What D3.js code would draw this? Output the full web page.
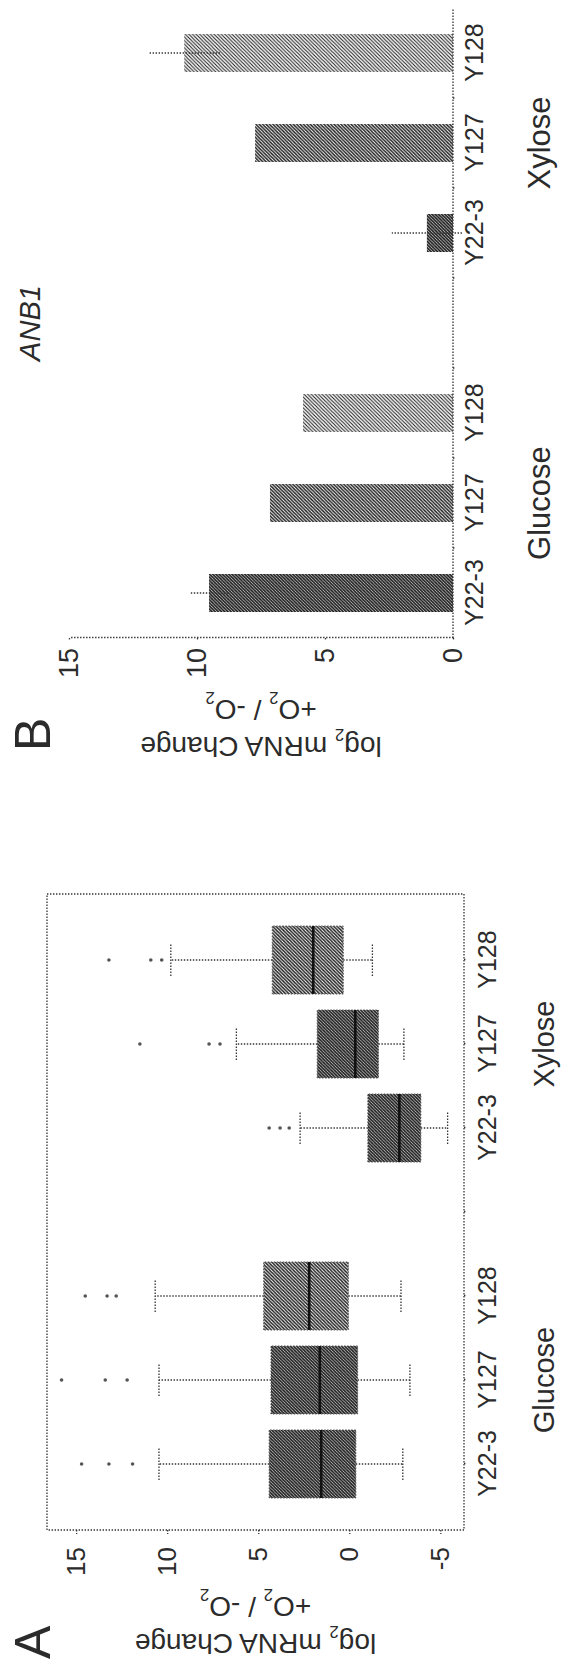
<!DOCTYPE html>
<html><head><meta charset="utf-8">
<script src="https://cdn.jsdelivr.net/npm/d3@7"></script>
<style>
html,body{margin:0;padding:0;background:#fff;}
svg{display:block;}
text{font-family:"Liberation Sans",Arial,sans-serif;fill:#2b2b2b;}
</style>
</head><body>
<svg id="c" width="566" height="1667"></svg>
<script>
// ---------- data ----------
const strains = ["Y22-3", "Y127", "Y128"];
const sugars = ["Glucose", "Xylose"];
const slots = ["Glucose|Y22-3", "Glucose|Y127", "Glucose|Y128", "gap", "Xylose|Y22-3", "Xylose|Y127", "Xylose|Y128"];
const dataSlots = slots.filter(s => s !== "gap");

// Panel A: box plots of log2 mRNA change (+O2/-O2)
const boxQ1      = [-0.36, -0.46, 0.05, -3.93, -1.60, 0.33];
const boxMedian  = [ 1.54,  1.62, 2.20, -2.75, -0.33, 1.98];
const boxQ3      = [ 4.40,  4.30, 4.70, -1.02,  1.76, 4.23];
const whiskerLow = [-2.94, -3.33, -2.84, -5.40, -3.00, -1.27];
const whiskerHigh= [10.45, 10.45, 10.66,  2.70,  6.20,  9.80];
const outliers   = [[11.9, 13.2, 14.7], [12.2, 13.4, 15.8], [12.8, 13.3, 14.5], [3.3, 3.8, 4.4], [7.1, 7.7, 11.5], [10.3, 10.9, 13.2]];
const ticksA = [-5, 0, 5, 10, 15];

// Panel B: ANB1 bars
const barMeans  = [9.53, 7.15, 5.86, 1.02, 7.73, 10.50];
const barErrors = [0.75, 0, 0, 1.37, 0, 1.40];
const ticksB = [0, 5, 10, 15];
const geneB = "ANB1";

// ---------- drawing ----------
const W = 1667; // unrotated width (becomes page height)
const svg = d3.select("#c");
const defs = svg.append("defs");
function hatch(id, s, sw) {
  const p = defs.append("pattern").attr("id", id).attr("patternUnits", "userSpaceOnUse")
    .attr("width", s).attr("height", s);
  p.append("rect").attr("width", s).attr("height", s).attr("fill", "#fff");
  p.append("path").attr("d", `M-1,1 L1,-1 M0,${s} L${s},0 M${s-1},${s+1} L${s+1},${s-1}`)
    .attr("stroke", "#1e1e1e").attr("stroke-width", sw);
}
hatch("hDark", 3.2, 1.7);
hatch("hMid", 3.4, 1.4);
hatch("hLight", 3.6, 1.1);
const shade = ["url(#hDark)", "url(#hMid)", "url(#hLight)"];

const root = svg.append("g").attr("transform", `translate(0,${W}) rotate(-90)`);
const dot = sel => sel.attr("stroke", "#333").attr("stroke-width", 1.3).attr("stroke-dasharray", "1.4,1.6").attr("fill", "none");

function labelOf(s) { return s === "gap" ? "" : s.split("|")[1]; }

function title(g, x, yc, size) {
  const t1 = g.append("text").attr("transform", `translate(${x},${yc}) rotate(-90)`)
    .attr("text-anchor", "middle").attr("font-size", size);
  t1.append("tspan").text("log");
  t1.append("tspan").attr("font-size", size * 0.6).attr("dy", size * 0.3).text("2");
  t1.append("tspan").attr("dy", -size * 0.3).text(" mRNA Change");
  const t2 = g.append("text").attr("transform", `translate(${x + 37},${yc}) rotate(-90)`)
    .attr("text-anchor", "middle").attr("font-size", size);
  t2.append("tspan").text("+O");
  t2.append("tspan").attr("font-size", size * 0.6).attr("dy", size * 0.3).text("2");
  t2.append("tspan").attr("dy", -size * 0.3).text(" / -O");
  t2.append("tspan").attr("font-size", size * 0.6).attr("dy", size * 0.3).text("2");
}

// ===== Panel A =====
const gA = root.append("g");
const xA = d3.scalePoint().domain(slots).range([137, 773]).padding(0.786);
const yA = d3.scaleLinear().domain([-6.3, 16.6]).range([464, 47]);

gA.append("rect").attr("x", 137).attr("y", yA.range()[1])
  .attr("width", 773 - 137).attr("height", yA.range()[0] - yA.range()[1]).call(dot);

const axA = gA.append("g").attr("transform", "translate(137,0)")
  .call(d3.axisLeft(yA).tickValues(ticksA).tickSize(4).tickPadding(13).tickFormat(d => String(d)));
axA.select(".domain").remove();
axA.selectAll("line").call(dot);
axA.selectAll("text").attr("font-size", 26).attr("fill", "#2b2b2b").attr("font-family", "Liberation Sans, Arial, sans-serif");

const axAx = gA.append("g").attr("transform", `translate(0,${yA.range()[0]})`)
  .call(d3.axisBottom(xA).tickSize(3).tickPadding(11).tickFormat(labelOf));
axAx.select(".domain").remove();
axAx.selectAll("line").call(dot);
axAx.selectAll("text").attr("font-size", 25).attr("fill", "#2b2b2b").attr("font-family", "Liberation Sans, Arial, sans-serif");

sugars.forEach(s => {
  gA.append("text").attr("x", xA(s + "|Y127")).attr("y", 554).attr("text-anchor", "middle")
    .attr("font-size", 29).text(s);
});

dataSlots.forEach((s, i) => {
  const cx = xA(s), bw = 68, cw = 32;
  const si = strains.indexOf(s.split("|")[1]);
  // whiskers
  gA.append("line").attr("x1", cx).attr("x2", cx).attr("y1", yA(boxQ3[i])).attr("y2", yA(whiskerHigh[i])).call(dot);
  gA.append("line").attr("x1", cx).attr("x2", cx).attr("y1", yA(boxQ1[i])).attr("y2", yA(whiskerLow[i])).call(dot);
  gA.append("line").attr("x1", cx - cw / 2).attr("x2", cx + cw / 2).attr("y1", yA(whiskerHigh[i])).attr("y2", yA(whiskerHigh[i])).call(dot);
  gA.append("line").attr("x1", cx - cw / 2).attr("x2", cx + cw / 2).attr("y1", yA(whiskerLow[i])).attr("y2", yA(whiskerLow[i])).call(dot);
  // box
  gA.append("rect").attr("x", cx - bw / 2).attr("width", bw)
    .attr("y", yA(boxQ3[i])).attr("height", yA(boxQ1[i]) - yA(boxQ3[i]))
    .attr("fill", si === 2 ? shade[1] : shade[0]).attr("stroke", "#555").attr("stroke-width", 1).attr("stroke-dasharray", "1.5,1.5");
  gA.append("line").attr("x1", cx - bw / 2).attr("x2", cx + bw / 2)
    .attr("y1", yA(boxMedian[i])).attr("y2", yA(boxMedian[i])).attr("stroke", "#111").attr("stroke-width", 2.6);
  // outliers
  outliers[i].forEach(v => {
    gA.append("circle").attr("cx", cx).attr("cy", yA(v)).attr("r", 1.8).attr("fill", "#555");
  });
});

title(gA, 33, (yA.range()[0] + yA.range()[1]) / 2, 28);
gA.append("text").attr("x", 8).attr("y", 50).attr("font-size", 50).attr("font-weight", 300).text("A");

// ===== Panel B =====
const gB = root.append("g");
const xB = d3.scalePoint().domain(slots).range([1029, 1659]).padding(0.5);
const yB = d3.scaleLinear().domain([0, 15]).range([453, 69]);

dataSlots.forEach((s, i) => {
  const cx = xB(s), bw = 38;
  const si = strains.indexOf(s.split("|")[1]);
  gB.append("rect").attr("x", cx - bw / 2).attr("width", bw)
    .attr("y", yB(barMeans[i])).attr("height", yB(0) - yB(barMeans[i]))
    .attr("fill", shade[si]);
  if (barErrors[i] > 0) {
    gB.append("line").attr("x1", cx).attr("x2", cx)
      .attr("y1", yB(barMeans[i] - barErrors[i])).attr("y2", yB(barMeans[i] + barErrors[i])).call(dot);
  }
});

const axB = gB.append("g").attr("transform", "translate(1029,0)")
  .call(d3.axisLeft(yB).tickValues(ticksB).tickSize(3).tickSizeOuter(0).tickPadding(7).tickFormat(d => String(d)));
axB.select(".domain").call(dot);
axB.selectAll("line").call(dot);
axB.selectAll("text").attr("font-size", 27).attr("fill", "#2b2b2b").attr("font-family", "Liberation Sans, Arial, sans-serif");

const axBx = gB.append("g").attr("transform", `translate(0,${yB(0)})`)
  .call(d3.axisBottom(xB).tickSize(0).tickSizeOuter(0).tickPadding(12).tickFormat(labelOf));
axBx.select(".domain").remove();
axBx.selectAll("text").attr("font-size", 25).attr("fill", "#2b2b2b").attr("font-family", "Liberation Sans, Arial, sans-serif");
gB.append("line").attr("x1", xB.range()[0]).attr("x2", xB.range()[1]).attr("y1", yB(0)).attr("y2", yB(0)).call(dot);
const stepB = xB.step();
slots.slice(1).forEach(s => {
  const bx = xB(s) - stepB / 2;
  gB.append("line").attr("x1", bx).attr("x2", bx).attr("y1", yB(0)).attr("y2", yB(0) + 3).call(dot);
});

sugars.forEach(s => {
  gB.append("text").attr("x", xB(s + "|Y127")).attr("y", 550).attr("text-anchor", "middle")
    .attr("font-size", 31).text(s);
});

gB.append("text").attr("x", xB("gap")).attr("y", 40).attr("text-anchor", "middle")
  .attr("font-size", 29).attr("font-style", "italic").text(geneB);

title(gB, 930, (yB.range()[0] + yB.range()[1]) / 2, 28);
gB.append("text").attr("x", 916).attr("y", 50).attr("font-size", 50).attr("font-weight", 300).text("B");
</script>
</body></html>
